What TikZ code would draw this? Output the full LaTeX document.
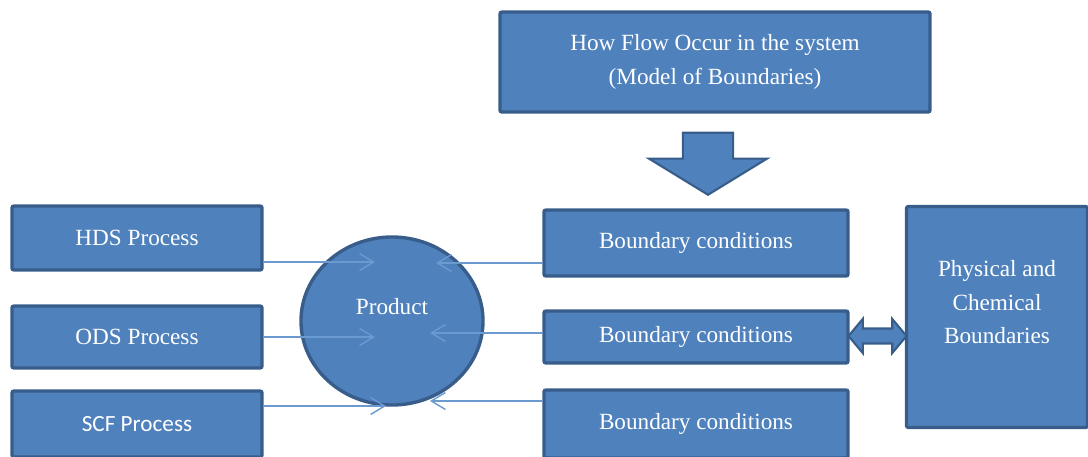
\documentclass[tikz,border=0pt]{standalone}
\usepackage{fontspec}
\setmainfont{Liberation Serif}
\newfontfamily\calibfont{Carlito}
\usetikzlibrary{arrows.meta,shapes.arrows,shapes.geometric}

\definecolor{boxblue}{HTML}{4F81BD}
\definecolor{boxedge}{HTML}{385D8A}
\definecolor{flowblue}{HTML}{6A9AD0}

\tikzset{
  block/.style={draw=boxedge, fill=boxblue, line width=2.4pt, rounded corners=1.5pt,
    text=white, align=center, inner sep=0pt, font=\fontsize{16.5}{24}\selectfont},
  blocktext/.style={text=white, align=center, font=\fontsize{16.5}{24}\selectfont},
  flow/.style={draw=flowblue, line width=1pt, -{Straight Barb[length=10pt,width=12pt]}},
}

\begin{document}
\begin{tikzpicture}[x=0.025cm, y=-0.025cm]
    \useasboundingbox (0,0) rectangle (1088,456);

    % boxes
    \node[block, minimum width=10.75cm, minimum height=2.5cm] (model) at (715,62)
      {How Flow Occur in the system\\(Model of Boundaries)};
    \node[block, minimum width=6.25cm, minimum height=1.6cm] (hds) at (137,238) {HDS Process};
    \node[block, minimum width=6.25cm, minimum height=1.55cm] (ods) at (137,337) {ODS Process};
    \node[block, minimum width=6.25cm, minimum height=1.65cm, font=\calibfont\fontsize{16.5}{20}\selectfont]
      (scf) at (137,424) {SCF Process};
    \node[block, minimum width=7.6cm, minimum height=1.65cm] (bc1) at (696,243) {Boundary conditions};
    \node[block, minimum width=7.6cm, minimum height=1.3cm] (bc2) at (696,337) {Boundary conditions};
    \node[block, minimum width=7.6cm, minimum height=1.7cm] (bc3) at (696,424) {Boundary conditions};
    \node[block, minimum width=4.525cm, minimum height=5.525cm,
      label={[blocktext, yshift=0.37cm]center:Physical and\\Chemical\\Boundaries}]
      (phys) at (997,317) {};

    % product
    \node[block, ellipse, minimum width=4.55cm, minimum height=4.2cm,
      label={[blocktext, yshift=0.35cm]center:Product}]
      (prod) at (392,321) {};

    % block arrows
    \node[draw=boxedge, fill=boxblue, line width=1.5pt, single arrow, rotate=-90, anchor=tip,
      minimum height=1.55cm, inner ysep=0.6cm, inner xsep=0pt,
      single arrow head extend=0.85cm, single arrow tip angle=117] (down) at (708,196) {};
    \node[draw=boxedge, fill=boxblue, line width=1.5pt, double arrow,
      minimum height=1.45cm, inner ysep=0.16cm, inner xsep=0pt,
      double arrow head extend=0.24cm, double arrow tip angle=100] (link) at (877.5,336) {};

    % flows into the product
    \coordinate (hin) at (375,262);
    \coordinate (oin) at (375,337);
    \coordinate (sin) at (386,406);
    \coordinate (b1in) at (436,263);
    \coordinate (b2in) at (430,333);
    \coordinate (b3in) at (430,401);
    \draw[flow] (hds.east |- hin) -- (hin);
    \draw[flow] (ods.east |- oin) -- (oin);
    \draw[flow] (scf.east |- sin) -- (sin);
    \draw[flow] (bc1.west |- b1in) -- (b1in);
    \draw[flow] (bc2.west |- b2in) -- (b2in);
    \draw[flow] (bc3.west |- b3in) -- (b3in);
\end{tikzpicture}
\end{document}
